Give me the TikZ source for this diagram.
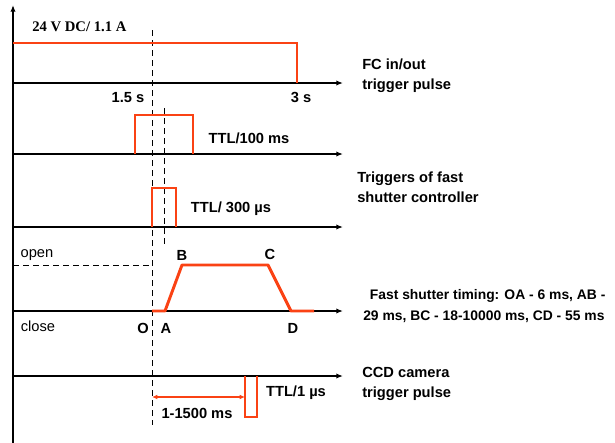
\documentclass[tikz,border=0pt]{standalone}
\usepackage{fontspec}
\setmainfont{Liberation Sans}
\newfontfamily\timesfont{Liberation Serif}
\usetikzlibrary{arrows.meta}
\definecolor{pulsered}{RGB}{250,66,20}
\begin{document}
\begin{tikzpicture}[
  x=0.75pt, y=-0.75pt,
  axis/.style={line width=1.1pt, -{Latex[length=5pt,width=4pt]}},
  sig/.style={draw=pulsered, line width=2.2pt},
  guide/.style={line width=0.7pt, dash pattern=on 4.5pt off 3pt},
  lbl/.style={font=\fontsize{11}{15}\selectfont\bfseries, inner sep=0pt},
  note/.style={font=\fontsize{11}{15}\selectfont\bfseries, align=left, anchor=west, inner sep=0pt}
]
\useasboundingbox (0,0) rectangle (615,443);
% time axes
\draw[axis] (13,443) -- (13,5);
\foreach \y in {83,154,227,311,376} {
  \draw[axis] (13,\y) -- (343,\y);
}
% guides
\draw[guide] (152,30) -- (152,425);
\draw[guide] (164,108) -- (164,245);
\draw[guide] (13,265) -- (152,265);
% FC in/out
\node[font=\timesfont\fontsize{11}{13}\selectfont\bfseries, anchor=west, inner sep=0pt] (dc) at (32,27) {24 V DC/ 1.1 A};
\draw[sig] (13,43) -- (297,43) -- (297,83);
\node[lbl] (t15) at (128,98) {1.5 s};
\node[lbl] (t3) at (301,97) {3 s};
\node[note] (fc) at (362,76) {FC in/out\\trigger pulse};
% fast shutter triggers
\draw[sig] (135,154) -- (135,115) -- (193,115) -- (193,154);
\node[lbl] (ttla) at (249,138) {TTL/100 ms};
\draw[sig] (152,227) -- (152,188) -- (176,188) -- (176,227);
\node[lbl] (ttlb) at (231,209) {TTL/ 300 µs};
\node[note] (trig) at (357,187) {Triggers of fast\\shutter controller};
% shutter timing
\coordinate (O) at (152,311);
\coordinate (A) at (165,311);
\coordinate (B) at (182,265);
\coordinate (C) at (268,265);
\coordinate (D) at (291,311);
\coordinate (E) at (314,311);
\draw[sig, line join=round] (O) -- (A) -- (B) -- (C) -- (D) -- (E);
\node[font=\fontsize{11}{13}\selectfont, inner sep=0pt] (open) at (37,255) {open};
\node[font=\fontsize{11}{13}\selectfont, inner sep=0pt] (close) at (38,326) {close};
\node[lbl] (lO) at (143,328) {O};
\node[lbl] (lA) at (166,328) {A};
\node[lbl] (lB) at (182,255) {B};
\node[lbl] (lC) at (270,254) {C};
\node[lbl] (lD) at (293,328) {D};
\node[note, font=\fontsize{10.4}{15.5}\selectfont\bfseries] (fst) at (363,306) {\hspace*{5pt}Fast shutter timing: OA - 6 ms, AB -\\29 ms, BC - 18-10000 ms, CD - 55 ms};
% CCD camera
\coordinate (t0) at (152,397);
\coordinate (ccd) at (245,397);
\draw[sig] (245,376) -- (245,417) -- (257,417) -- (257,376);
\draw[draw=pulsered, line width=1.2pt, {Latex[length=4pt,width=3.5pt]}-{Latex[length=4pt,width=3.5pt]}] (t0) -- (ccd);
\node[lbl] (delay) at (197,413) {1-1500 ms};
\node[lbl] (ttlc) at (296,393) {TTL/1 µs};
\node[note] (cam) at (362,384) {CCD camera\\trigger pulse};
\end{tikzpicture}
\end{document}
